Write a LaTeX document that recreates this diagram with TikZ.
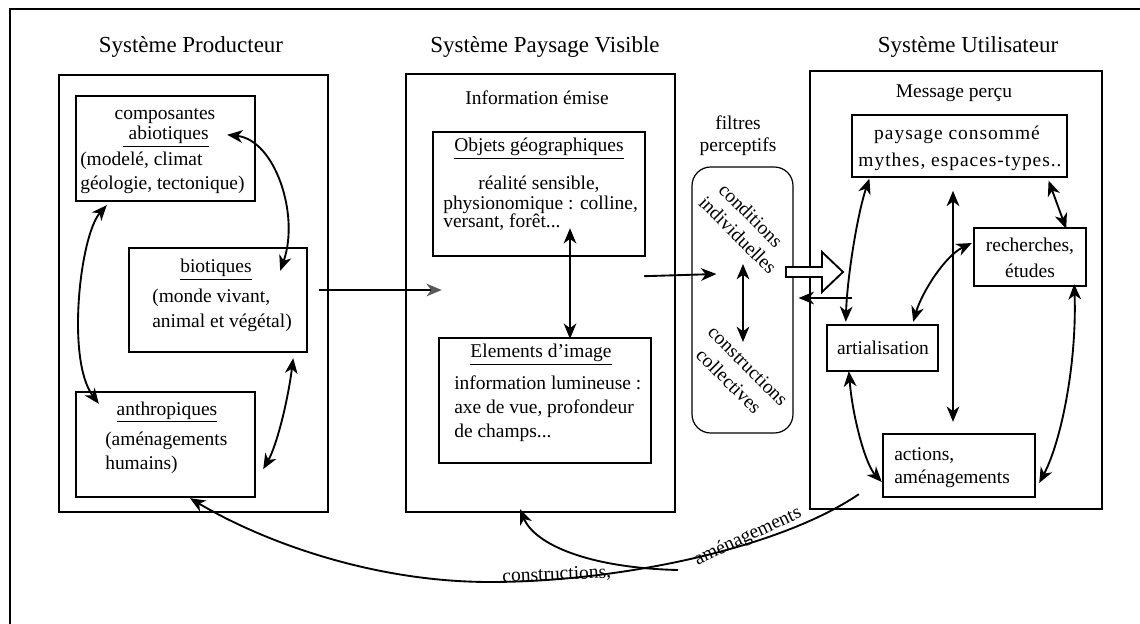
\documentclass[tikz,border=0pt]{standalone}
\usepackage{fontspec}
\setmainfont{Liberation Serif}
\usetikzlibrary{arrows.meta,fit,calc}
\begin{document}
\begin{tikzpicture}[x=0.75pt,y=-0.75pt,
  myhead/.tip={Stealth[length=11.5pt,width=9.5pt,inset=3.5pt]},
  frame/.style={draw, line width=1.8pt, inner sep=0pt},
  thinframe/.style={draw, line width=0.9pt, inner sep=0pt},
  txt/.style={font=\fontsize{14.6}{17}\selectfont, inner sep=0pt},
  spaced/.style={font=\fontsize{14.6}{17}\selectfont\addfontfeature{LetterSpace=5}, inner sep=0pt},
  ttl/.style={font=\fontsize{17.2}{20}\selectfont, inner sep=0pt},
  link/.style={line width=1.4pt, myhead-myhead},
  onearrow/.style={line width=1.4pt, -myhead}]
\useasboundingbox (0,0) rectangle (1140,624);
% outer frame (cut at right and bottom)
\draw[line width=0.9pt] (10,624) -- (10,9) -- (1140,9);

% titles
\node[ttl, anchor=base] (tprod) at (191,53) {Système Producteur};
\node[ttl, anchor=base] (tvis) at (545,53) {Système Paysage Visible};
\node[ttl, anchor=base] (tuser) at (968,53) {Système Utilisateur};

% boxes
\node[frame, fit={(59,75) (328,512)}] (prod) {};
\node[frame, fit={(76,96) (255,201)}] (abio) {};
\node[frame, fit={(129,248) (307,352)}] (bio) {};
\node[frame, fit={(76,392) (255,497)}] (anthro) {};
\node[frame, fit={(406,74) (675,512)}] (vis) {};
\node[frame, fit={(433,132) (645,256)}] (obj) {};
\node[frame, fit={(439,338) (651,463)}] (elem) {};
\node[thinframe, rounded corners=14pt, fit={(692,167) (793,433)}] (filt) {};
\node[frame, fit={(810,71) (1102,509)}] (user) {};
\node[thinframe, fit={(852,115) (1067,177)}] (cons) {};
\node[frame, fit={(974,228) (1086,286)}] (rech) {};
\node[frame, fit={(827,325) (938,371)}] (art) {};
\node[frame, fit={(883,434) (1035,497)}] (act) {};

% producer texts
\node[txt, anchor=base] (t1) at (165,120) {composantes};
\node[txt, anchor=base] (t2) at (166,140) {\underline{\hspace{4pt}abiotiques}};
\node[txt, anchor=base west] (t3) at (80,166) {(modelé, climat};
\node[txt, anchor=base west] (t4) at (80,190) {géologie, tectonique)};
\node[txt, anchor=base] (t5) at (216,273) {\underline{biotiques}};
\node[txt, anchor=base west] (t6) at (152,302) {(monde vivant,};
\node[txt, anchor=base west] (t7) at (152,327) {animal et végétal)};
\node[txt, anchor=base] (t8) at (167,415) {\underline{anthropiques}};
\node[txt, anchor=base west] (t9) at (105,445) {(aménagements};
\node[txt, anchor=base west] (t10) at (105,469) {humains)};

% visible texts
\node[txt, anchor=base] (t11) at (537,105) {Information émise};
\node[txt, anchor=base] (t12) at (539,152) {\underline{Objets géographiques}};
\node[txt, anchor=base] (t13) at (539,190) {réalité sensible,};
\node[txt, anchor=base west] (t14) at (443,210) {physionomique : colline,};
\node[txt, anchor=base west] (t15) at (443,228) {versant, forêt...};
\node[txt, anchor=base] (t16) at (541,358) {\underline{Elements d'image}};
\node[txt, anchor=base west] (t17) at (454,389) {information lumineuse :};
\node[txt, anchor=base west] (t18) at (454,413) {axe de vue, profondeur};
\node[txt, anchor=base west] (t19) at (454,437) {de champs...};

% filter texts
\node[txt, anchor=base] (t20) at (738,130) {filtres};
\node[txt, anchor=base] (t21) at (738,152) {perceptifs};
\node[txt, rotate=-45] (t22) at (751,215) {conditions};
\node[txt, rotate=-45] (t23) at (738,235) {individuelles};
\node[txt, rotate=-45] (t24) at (748,366) {constructions};
\node[txt, rotate=-45] (t25) at (729,381) {collectives};

% user texts
\node[txt, anchor=base] (t26) at (954,98) {Message perçu};
\node[spaced, anchor=base] (t27) at (957,140) {paysage consommé};
\node[spaced, anchor=base] (t28) at (960,167) {mythes, espaces-types..};
\node[txt, anchor=base] (t29) at (1030,252) {recherches,};
\node[txt, anchor=base] (t30) at (1030,277) {études};
\node[txt, anchor=base] (t31) at (883,354) {artialisation};
\node[txt, anchor=base west] (t32) at (894,460) {actions,};
\node[txt, anchor=base west] (t33) at (894,483) {aménagements};

% producer arrows
\draw[link] ([shift={(-29,40)}]abio.north east) .. controls (275,140) and (300,215) .. ([shift={(-28,24)}]bio.north east);
\draw[link] ([shift={(32,3)}]abio.south west) .. controls (80,235) and (66,360) .. ([shift={(24,13)}]anthro.north west);
\draw[link] ([shift={(-15,5)}]bio.south east) .. controls (288,400) and (277,445) .. ([shift={(7,-29)}]anthro.south east);

% producer -> visible
\draw[line width=1.4pt, -{Stealth[length=11.5pt,width=9.5pt,inset=3.5pt,color=black!65]}] ([shift={(11,-10)}]bio.east) -- ([shift={(37,-3)}]vis.west);

% visible inner arrow
\draw[link] ([shift={(31,-29)}]obj.south) -- ([shift={(25,2)}]elem.north);

% visible -> filter
\draw[onearrow] ([shift={(-2,19)}]obj.south east) -- ([shift={(25,-26)}]filt.west);

% filter inner arrow
\draw[link] ([shift={(0.5,-36)}]filt.center) -- ([shift={(0.5,42)}]filt.center);

% block arrow
\draw[line width=1.4pt, fill=white] (786,267) -- (822,267) -- (822,252) -- (843,272) -- (822,292) -- (822,277) -- (786,277) -- cycle;

% return arrow
\draw[onearrow] ([shift={(43,8)}]user.west) -- ([shift={(5,-2)}]filt.east);

% user arrows
\draw[link] ([shift={(18,1)}]cons.south west) .. controls (857,215) and (847,280) .. ([shift={(20,-2)}]art.north west);
\draw[link] ([shift={(-1,-14)}]rech.west) .. controls (945,256) and (922,292) .. ([shift={(-26,-2)}]art.north east);
\draw[link] ([shift={(-3,121)}]user.north) -- ([shift={(-6,-11)}]act.north);
\draw[link] ([shift={(-19,3)}]cons.south east) -- ([shift={(-21,2)}]rech.north east);
\draw[link] ([shift={(-13,-3)}]rech.south east) .. controls (1077,360) and (1062,440) .. ([shift={(3,17.5)}]act.east);
\draw[link] ([shift={(23,-1)}]art.south west) .. controls (853,420) and (866,465) .. ([shift={(0,16.5)}]act.west);

% bottom feedback curves
\coordinate (bsplit) at (678,570);
\draw[onearrow] ([shift={(50,-16)}]user.south west) .. controls (780,548) and (620,582) .. (490,582) .. controls (370,582) and (260,540) .. ([shift={(24.5,0)}]anthro.south);
\draw[onearrow] (bsplit) .. controls (590,568) and (535,545) .. ([shift={(-20.5,-4)}]vis.south);
\node[txt, anchor=base, rotate=2.5] (t34) at (557,580) {constructions,};
\node[txt, anchor=base, rotate=25] (t35) at (750,541) {aménagements};
\end{tikzpicture}
\end{document}
